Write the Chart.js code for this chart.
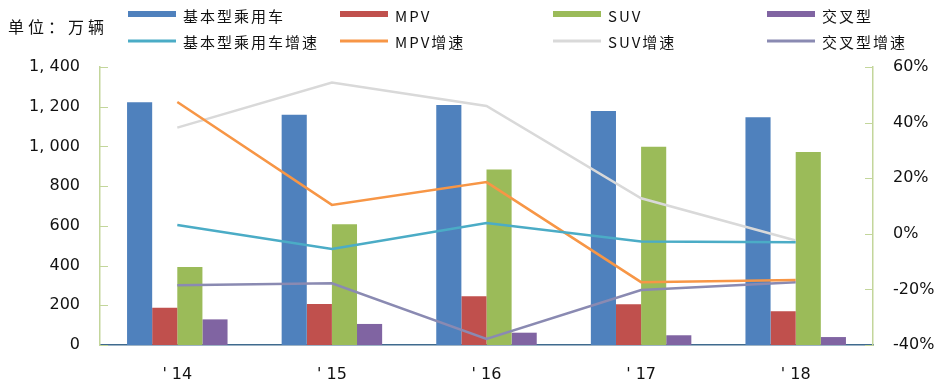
<!DOCTYPE html>
<html>
<head>
<meta charset="utf-8">
<script src="https://cdn.jsdelivr.net/npm/chart.js@4/dist/chart.umd.min.js"></script>
<style>
  html, body { margin: 0; padding: 0; background: #fff; }
  #wrap { width: 942px; height: 381px; }
</style>
</head>
<body>
<div id="wrap"><canvas id="c" width="942" height="381"></canvas></div>
<script>
// ---- data ----
const categories = ["' 14", "' 15", "' 16", "' 17", "' 18"];
const unitLabel = "单位：万辆";

const basicSales = [1222, 1160, 1209, 1178, 1147];
const mpvSales = [188, 206, 245, 205, 170];
const suvSales = [393, 608, 884, 999, 972];
const crossSales = [129, 106, 62, 49, 40];

const basicGrowth = [3.2, -5.5, 3.9, -2.8, -3.0];
const mpvGrowth = [47.4, 10.4, 18.6, -17.4, -16.6];
const suvGrowth = [38.2, 54.4, 46.0, 12.8, -2.4];
const crossGrowth = [-18.5, -17.8, -37.8, -20.2, -17.4];

const barLabels = ["基本型乘用车", "MPV", "SUV", "交叉型"];
const lineLabels = ["基本型乘用车增速", "MPV增速", "SUV增速", "交叉型增速"];

const leftTicks = { min: 0, max: 1400, step: 200 };
const rightTicks = { min: -40, max: 60, step: 20 };

// ---- styles ----
const barColors = ["#4f81bd", "#c0504d", "#9bbb59", "#8064a2"];
const lineColors = ["#4bacc6", "#f79646", "#d9d9d9", "#8a8ab2"];
const axisGreen = "#c3d69b";
const NUM_FONT = "'DejaVu Sans', sans-serif";
const CJK_FONT = "'Noto Sans CJK SC', sans-serif";

function fmtThousands(v) {
  const s = String(Math.round(v));
  return s.length > 3 ? s.slice(0, s.length - 3) + ", " + s.slice(s.length - 3) : s;
}

const barSeries = [basicSales, mpvSales, suvSales, crossSales];
const lineSeries = [basicGrowth, mpvGrowth, suvGrowth, crossGrowth];

const datasets = [];
barSeries.forEach((d, i) => datasets.push({
  type: 'bar', label: barLabels[i], data: d, yAxisID: 'y',
  backgroundColor: barColors[i], borderWidth: 0,
  categoryPercentage: 0.65, barPercentage: 1.0, order: 2
}));
lineSeries.forEach((d, i) => datasets.push({
  type: 'line', label: lineLabels[i], data: d, yAxisID: 'y1',
  borderColor: lineColors[i], backgroundColor: lineColors[i],
  borderWidth: 2.5, pointRadius: 0, tension: 0, fill: false, order: 1
}));

const customLegend = {
  id: 'customLegend',
  afterDraw(chart) {
    const ctx = chart.ctx;
    ctx.save();
    // unit label
    ctx.fillStyle = "#111";
    ctx.textBaseline = 'middle';
    ctx.textAlign = 'left';
    ctx.font = "16px " + CJK_FONT;
    ctx.letterSpacing = "4px";
    ctx.fillText(unitLabel, 8, 27);
    ctx.letterSpacing = "2px";
    const colX = [128, 340, 553, 767];
    const rowY = [15, 41];
    chart.data.datasets.forEach((ds, i) => {
      const col = i % 4, row = Math.floor(i / 4);
      const x = colX[col], y = rowY[row];
      ctx.fillStyle = ds.type === 'bar' ? ds.backgroundColor : ds.borderColor;
      if (ds.type === 'bar') ctx.fillRect(x, y - 4, 48, 6);
      else ctx.fillRect(x, y - 1.5, 48, 3);
      ctx.fillStyle = "#111";
      ctx.font = "15px " + CJK_FONT;
      ctx.fillText(ds.label, x + 55, y + 1);
    });
    ctx.letterSpacing = "0px";
    // inward tick marks on both value axes
    const ys = chart.scales.y, y1 = chart.scales.y1;
    ctx.strokeStyle = axisGreen;
    ctx.lineWidth = 1;
    ys.ticks.forEach(t => {
      const p = Math.round(ys.getPixelForValue(t.value)) + 0.5;
      ctx.beginPath(); ctx.moveTo(ys.right, p); ctx.lineTo(ys.right + 8, p); ctx.stroke();
    });
    y1.ticks.forEach(t => {
      const p = Math.round(y1.getPixelForValue(t.value)) + 0.5;
      ctx.beginPath(); ctx.moveTo(y1.left, p); ctx.lineTo(y1.left - 8, p); ctx.stroke();
    });
    ctx.restore();
  }
};

new Chart(document.getElementById('c'), {
  data: { labels: categories, datasets },
  options: {
    responsive: false,
    animation: false,
    devicePixelRatio: 1,
    layout: { padding: { top: 67, left: 0, right: 0, bottom: 0 } },
    plugins: { legend: { display: false }, tooltip: { enabled: false } },
    scales: {
      x: {
        offset: true,
        grid: { display: false, drawTicks: false },
        border: { display: true, color: "#3f6a8e", width: 1.5 },
        ticks: { color: "#111", font: { family: NUM_FONT, size: 16 }, padding: 20, maxRotation: 0 },
        afterFit(s) { s.height = 36; }
      },
      y: {
        position: 'left',
        min: leftTicks.min, max: leftTicks.max,
        grid: { display: false, drawTicks: false },
        border: { display: true, color: axisGreen, width: 1.5 },
        ticks: {
          stepSize: leftTicks.step, color: "#111", padding: 20,
          font: { family: NUM_FONT, size: 16 },
          callback: v => fmtThousands(v)
        },
        afterFit(s) { s.width = 100; }
      },
      y1: {
        position: 'right',
        min: rightTicks.min, max: rightTicks.max,
        grid: { display: false, drawTicks: false },
        border: { display: true, color: axisGreen, width: 1.5 },
        ticks: {
          stepSize: rightTicks.step, color: "#111", padding: 20,
          font: { family: NUM_FONT, size: 16 },
          callback: v => v + "%"
        },
        afterFit(s) { s.width = 69; }
      }
    }
  },
  plugins: [customLegend]
});
</script>
</body>
</html>
